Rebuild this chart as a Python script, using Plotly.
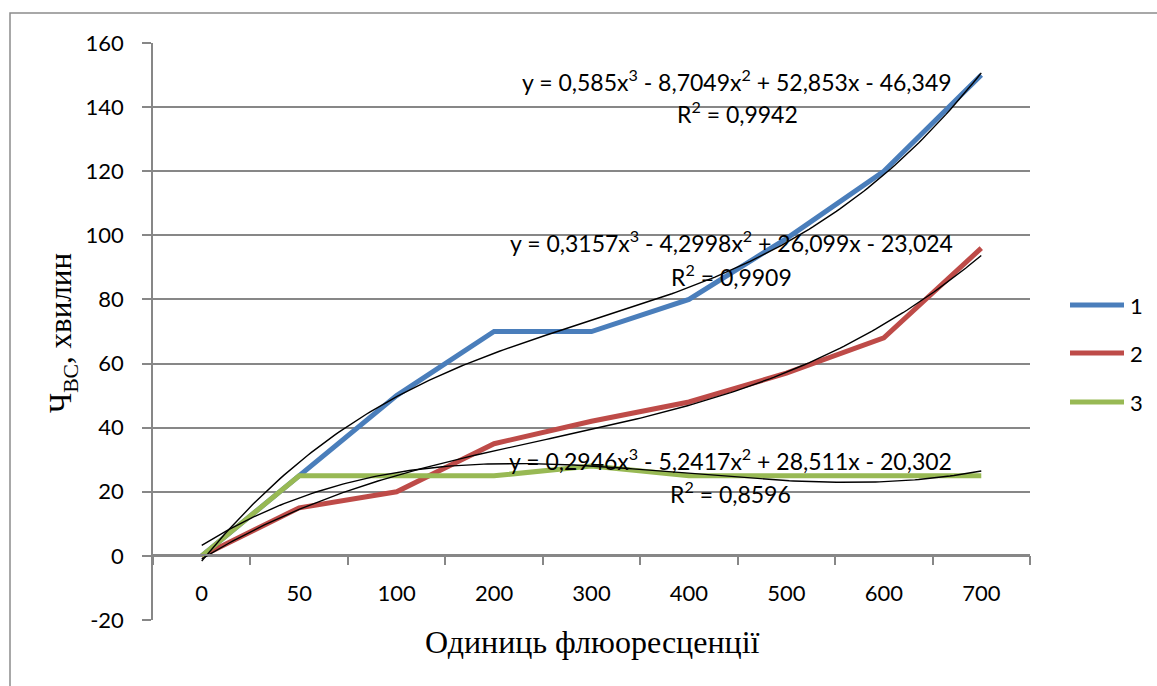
import numpy as np
import plotly.graph_objects as go

# Category labels (fluorescence units) and measured series
categories = ["0", "50", "100", "200", "300", "400", "500", "600", "700"]
series_names = ["1", "2", "3"]
series_1 = [0, 25, 50, 70, 70, 80, 99, 120, 150]
series_2 = [0, 15, 20, 35, 42, 48, 57, 68, 96]
series_3 = [0, 25, 25, 25, 28, 25, 25, 25, 25]
colors = ["#4A7EBB", "#BE4B48", "#98B954"]

# y-axis ticks
y_ticks = [-20, 0, 20, 40, 60, 80, 100, 120, 140, 160]
y_ticktext = ["-20", "0", "20", "40", "60", "80", "100", "120", "140", "160"]

# Cubic trendline coefficients (a, b, c, d) for y = a x^3 + b x^2 + c x + d, x = 1..9
trend_coefs = [
    [0.585, -8.7049, 52.853, -46.349],
    [0.3157, -4.2998, 26.099, -23.024],
    [0.2946, -5.2417, 28.511, -20.302],
]
r_squared = ["0,9942", "0,9909", "0,8596"]
eq_text = [
    "y = 0,585x<sup>3</sup> - 8,7049x<sup>2</sup> + 52,853x - 46,349",
    "y = 0,3157x<sup>3</sup> - 4,2998x<sup>2</sup> + 26,099x - 23,024",
    "y = 0,2946x<sup>3</sup> - 5,2417x<sup>2</sup> + 28,511x - 20,302",
]

W, H = 1157, 686
L, R, T, B = 153, 127, 43, 66
pw, ph = W - L - R, H - T - B

def px_x(px):
    return (px - L) / pw

def px_y(py):
    return (H - B - py) / ph

FONT = "Lato"
SERIF = "Liberation Serif"
GRID = "#878787"

fig = go.Figure()
idx = list(range(len(categories)))
all_series = [series_1, series_2, series_3]

for name, vals, col in zip(series_names, all_series, colors):
    fig.add_trace(go.Scatter(x=idx, y=vals, mode="lines", name=name,
                             line=dict(color=col, width=5), showlegend=False))

# trendlines evaluated across the data range
t = np.linspace(1, len(categories), 200)
for coefs in trend_coefs:
    y = np.polyval(coefs, t)
    fig.add_trace(go.Scatter(x=t - 1, y=y, mode="lines",
                             line=dict(color="black", width=1.4), showlegend=False))

# equation labels (centre x pixel, equation y pixel, R² y pixel)
label_pos = [(737, 80, 113), (731, 241, 275), (730, 459, 492)]
for (cx, ey, ry), eq, r2 in zip(label_pos, eq_text, r_squared):
    fig.add_annotation(x=px_x(cx), y=px_y(ey), xref="paper", yref="paper",
                       text=eq, showarrow=False, xanchor="center", yanchor="middle",
                       font=dict(family=FONT, size=23, color="black"))
    fig.add_annotation(x=px_x(cx), y=px_y(ry), xref="paper", yref="paper",
                       text="R<sup>2</sup> = " + r2, showarrow=False,
                       xanchor="center", yanchor="middle",
                       font=dict(family=FONT, size=23, color="black"))

# legend drawn by hand
leg_y = [305, 353, 402]
for name, col, ly in zip(series_names, colors, leg_y):
    fig.add_shape(type="line", xref="paper", yref="paper",
                  x0=px_x(1070), x1=px_x(1124), y0=px_y(ly), y1=px_y(ly),
                  line=dict(color=col, width=5))
    fig.add_annotation(x=px_x(1128), y=px_y(ly), xref="paper", yref="paper",
                       text=name, showarrow=False, xanchor="left", yanchor="middle",
                       font=dict(family=FONT, size=22, color="black"))

# axis titles
fig.add_annotation(x=px_x(592), y=px_y(642), xref="paper", yref="paper",
                   text="Одиниць флюоресценції", showarrow=False,
                   xanchor="center", yanchor="middle",
                   font=dict(family=SERIF, size=32, color="black"))
fig.add_annotation(x=px_x(63), y=px_y(333), xref="paper", yref="paper",
                   text="Ч<sub>ВС</sub>, хвилин", showarrow=False, textangle=-90,
                   xanchor="center", yanchor="middle",
                   font=dict(family=SERIF, size=31, color="black"))

# outer frame
fig.add_shape(type="rect", xref="paper", yref="paper",
              x0=px_x(10), x1=px_x(1175), y0=px_y(700), y1=px_y(13),
              line=dict(color="#8c8c8c", width=1.5), layer="below")

fig.update_layout(
    width=W, height=H,
    margin=dict(l=L, r=R, t=T, b=B),
    paper_bgcolor="white", plot_bgcolor="white",
    showlegend=False,
    xaxis=dict(
        range=[-0.5, len(categories) - 0.5],
        tickvals=idx, ticktext=categories,
        ticks="outside", ticklen=0, tickcolor="rgba(0,0,0,0)",
        ticklabelstandoff=19,
        minor=dict(tick0=-0.5, dtick=1, ticks="outside", ticklen=9,
                   tickcolor=GRID, tickwidth=1.5, showgrid=False),
        showgrid=False, zeroline=False,
        showline=True, linecolor=GRID, linewidth=1.5,
        anchor="free", position=px_y(555),
        tickfont=dict(family=FONT, size=22, color="black"),
    ),
    yaxis=dict(
        range=[-20, 160], tickvals=y_ticks, ticktext=y_ticktext,
        ticks="outside", ticklen=9, tickcolor=GRID, tickwidth=1.5,
        showgrid=True, gridcolor=GRID, gridwidth=1.5,
        zeroline=False, showline=True, linecolor=GRID, linewidth=1.5,
        tickfont=dict(family=FONT, size=22, color="black"),
        ticklabelstandoff=14,
    ),
)

fig.write_html("out.html")
